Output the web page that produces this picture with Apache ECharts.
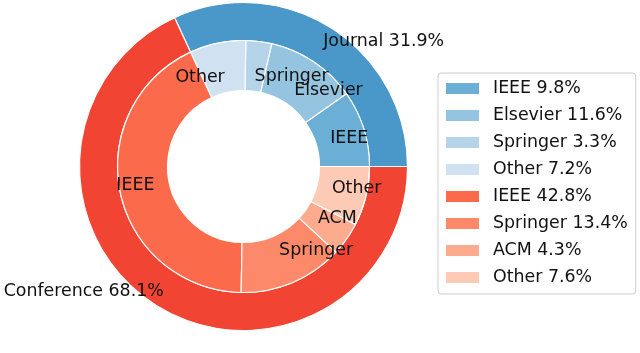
<!DOCTYPE html>
<html>
<head>
<meta charset="utf-8">
<script src="https://cdn.jsdelivr.net/npm/echarts@6/dist/echarts.min.js"></script>
<style>
  html, body { margin: 0; padding: 0; background: #fff; }
  #chart { width: 640px; height: 353px; }
</style>
</head>
<body>
<div id="chart"></div>
<script>
// outer ring: venue type
const outerLabels = ['Journal', 'Conference'];
const outerValues = [31.9, 68.1];
const outerColors = ['#4a98c9', '#f14432'];

// inner ring: publisher within venue type
const innerLabels = ['IEEE', 'Elsevier', 'Springer', 'Other', 'IEEE', 'Springer', 'ACM', 'Other'];
const innerValues = [9.8, 11.6, 3.3, 7.2, 42.8, 13.4, 4.3, 7.6];
const innerColors = ['#6baed6', '#94c4df', '#b6d4e9', '#d0e1f2', '#fb6a4a', '#fc8a6a', '#fcab8e', '#fdcab5'];

const font = 'DejaVu Sans';
const fontSize = 17.4;
const center = [243.5, 166.5];

const legendNames = innerLabels.map((l, i) => `${l} ${innerValues[i]}%`);

const ring = (radius, labels, values, colors, names) => ({
    type: 'pie',
    center,
    radius,
    clockwise: false,
    startAngle: 0,
    silent: true,
    label: { show: false },
    labelLine: { show: false },
    itemStyle: { borderColor: '#fff', borderWidth: 1.2 },
    data: values.map((v, i) => ({ name: names[i], value: v, itemStyle: { color: colors[i] } }))
});

// transparent pie used only to place text the way matplotlib does (anchored at a radius)
const labelPie = (r, texts, values) => ({
    type: 'pie',
    center,
    radius: [0, r],
    clockwise: false,
    startAngle: 0,
    silent: true,
    avoidLabelOverlap: false,
    minShowLabelAngle: 0,
    labelLayout: { hideOverlap: false },
    itemStyle: { color: 'rgba(0,0,0,0)', borderWidth: 0 },
    label: {
        show: true,
        position: 'outside',
        distanceToLabelLine: 0,
        color: '#111',
        fontFamily: font,
        fontSize
    },
    labelLine: { show: false, length: 0, length2: 0 },
    data: values.map((v, i) => ({ name: 'lbl' + r + '_' + i, value: v, label: { formatter: texts[i] } }))
});

const chart = echarts.init(document.getElementById('chart'));
chart.setOption({
    animation: false,
    backgroundColor: '#fff',
    legend: {
        data: legendNames,
        orient: 'vertical',
        left: 438,
        top: 73,
        padding: [7, 8, 8, 8],
        itemWidth: 33,
        itemHeight: 11,
        itemGap: 10,
        icon: 'rect',
        borderColor: '#cccccc',
        borderWidth: 1,
        borderRadius: 3,
        backgroundColor: '#fff',
        selectedMode: false,
        itemStyle: { borderWidth: 0 },
        textStyle: { fontFamily: font, fontSize, color: '#111', padding: [0, 0, 0, 9] }
    },
    series: [
        ring([126, 164], outerLabels, outerValues, outerColors, outerLabels.map((l, i) => `${l} ${outerValues[i]}%`)),
        ring([76, 126], innerLabels, innerValues, innerColors, legendNames),
        labelPie(148, outerLabels.map((l, i) => `${l} ${outerValues[i]}%`), outerValues),
        labelPie(91, innerLabels, innerValues)
    ]
});
</script>
</body>
</html>
